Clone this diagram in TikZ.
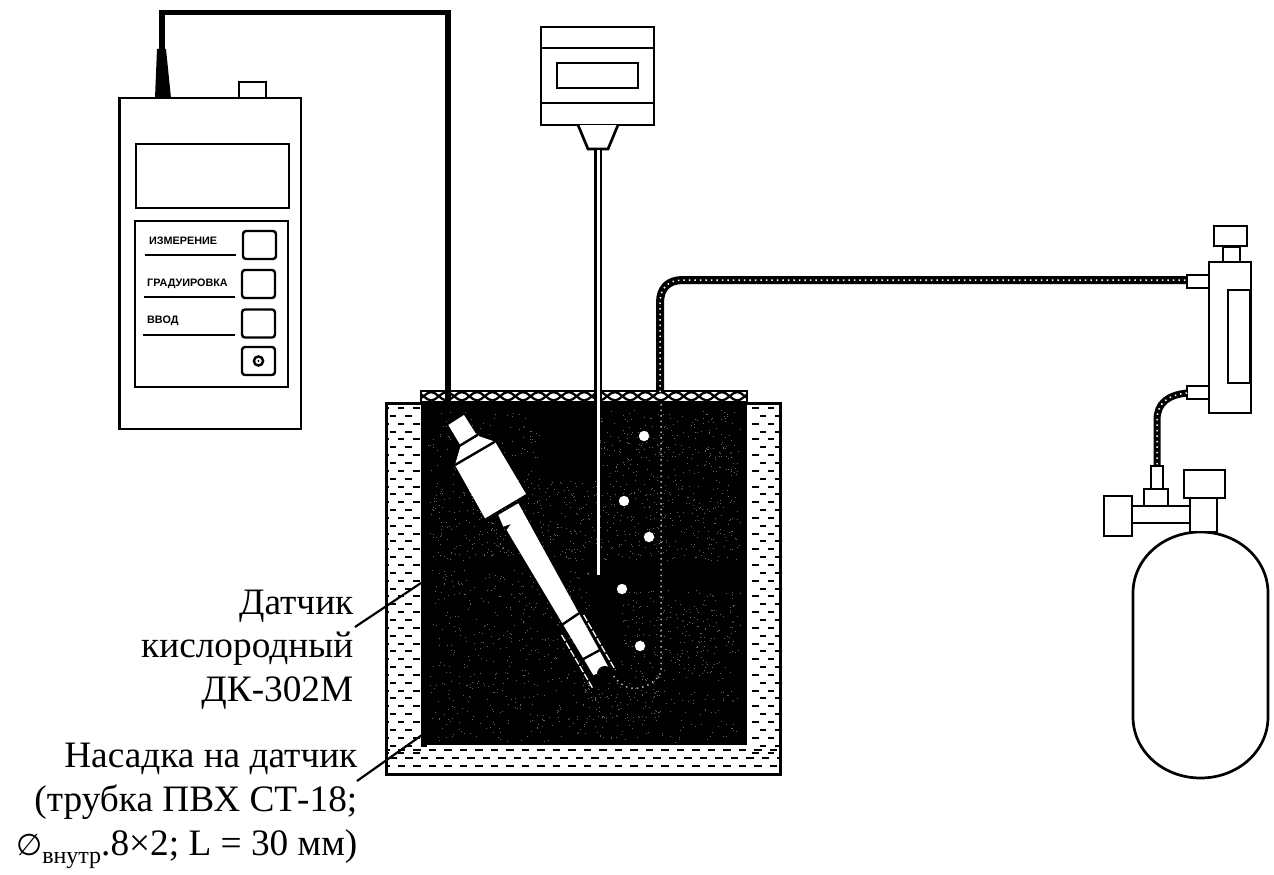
\documentclass[tikz,border=0pt]{standalone}
\usepackage{fontspec}
\setmainfont{Liberation Serif}
\newfontfamily\btnfont{Liberation Sans}[BoldFont={Liberation Sans Bold}]
\usetikzlibrary{calc}
\tikzset{
 ink/.style={draw=black,line width=2.7pt,fill=white,line join=miter},
 thinink/.style={draw=black,line width=2.2pt},
 btn/.style={draw=black,line width=2.4pt,fill=white,rounded corners=3pt},
 btnlabel/.style={font=\btnfont\bfseries\fontsize{10.8}{12}\selectfont,anchor=west,inner sep=0pt},
 rule/.style={draw=black,line width=2.2pt},
 calloutlabel/.style={font=\fontsize{37.3}{43.7}\selectfont,align=right,inner sep=0pt,anchor=north east},
 leader/.style={draw=black,line width=2.2pt},
 ropeouter/.style={draw=black,line width=8pt,line cap=butt},
 ropedots/.style={draw=white,line width=1.5pt,dash pattern=on 1.5pt off 4pt},
 wdash/.style={draw=white,line width=1.3pt,dash pattern=on 7pt off 2pt},
 gas/.style={fill=white,draw=none},
}
\newcommand{\airtube}{(660,392) -- (660,303) .. controls (660,288) and (668,280) .. (683,280) -- (1187,280)}
\newcommand{\feedtube}{(1187,393) .. controls (1168,395) and (1157,403) .. (1157,420) -- (1157,466)}
\begin{document}
\begin{tikzpicture}[x=1pt,y=-1pt]
\useasboundingbox (0,0) rectangle (1274,875);
\fill[white] (0,0) rectangle (1274,875);

% --- bath: water jacket
\draw[ink,line width=3pt] (386,403) rectangle (780,774);
\begin{scope}
\clip (387,404) rectangle (779,773);
\foreach \r in {0,...,44}{
  \pgfmathsetmacro\yy{408+7.85*\r}
  \pgfmathsetmacro\off{mod(\r,2)*7.5}
  \foreach \c in {0,1,2}{
    \fill[black] ({382+\off+15.5*\c},\yy-1) rectangle ++(6.5,2);
    \fill[black] ({752+\off+15.5*(\c-0)},\yy-1) rectangle ++(6.5,2);
  }
}
\foreach \r in {0,1,2}{
  \pgfmathsetmacro\yy{750+8*\r}
  \pgfmathsetmacro\off{mod(\r,2)*7.5}
  \foreach \c in {0,...,25}{
    \fill[black] ({382+\off+15.5*\c},\yy-1) rectangle ++(7.5,2);
  }
}
\end{scope}

% --- liquid
\fill[black] (421,390) rectangle (747,745);
\pgfmathsetseed{4217}
\foreach \xa/\xb/\ya/\yb/\n in {
 428/540/410/480/110, 430/740/480/560/620, 430/590/570/690/340,
 620/740/590/680/260, 430/740/690/742/240, 600/740/410/480/240,
 580/660/680/720/70}{
  \foreach \i in {1,...,\n}{
    \pgfmathsetmacro\px{\xa+rnd*(\xb-\xa)}
    \pgfmathsetmacro\py{\ya+rnd*(\yb-\ya)}
    \fill[black!60] (\px,\py) rectangle ++(1,1);
  }
}

% --- lid
\begin{scope}
\clip (421,392) rectangle (747,402);
\fill[white] (421,392) rectangle (747,401);
\foreach \i in {0,...,21}{
  \pgfmathsetmacro\xs{421+15.3*\i-5}
  \draw[black,line width=2.3pt] (\xs,392) .. controls (\xs+5,392) and (\xs+10,400.5) .. (\xs+15.3,400.5);
  \draw[black,line width=2.3pt] (\xs,400.5) .. controls (\xs+5,400.5) and (\xs+10,392) .. (\xs+15.3,392);
}
\end{scope}
\draw[black,line width=2.8pt] (421,391) -- (747,391);
\fill[black] (421,400.5) rectangle (747,403);
\draw[black,line width=2.4pt] (421,390) -- (421,403) (747,390) -- (747,403);

% --- gas tube continuing inside the liquid
\draw[ropedots,draw=white!70!black] (661,404) -- (661,672) .. controls (656,684) and (640,690) .. (630,688) .. controls (622,686) and (616,680) .. (613,675);
% --- bubbles
\foreach \bx/\by [count=\k] in {644/436,624/501,649/537,622/589,640/646}
  \fill[gas] (\bx,\by) circle (5.2);

% --- oxygen sensor (traced in 3x coordinates of the tank crop)
\begin{scope}[shift={(380,380)},x=0.3333pt,y=-0.3333pt]
  \fill[white] (205,135) -- (252,105) -- (290,165) -- (242,197) -- cycle;
  \fill[white] (242,197) -- (295,168) -- (345,185) -- (225,255) -- cycle;
  \fill[white] (225,255) -- (345,185) -- (438,342) -- (315,415) -- cycle;
  \fill[white] (355,405) -- (415,370) -- (690,870) -- (640,885) -- (380,450) -- (393,432) -- (370,440) -- cycle;
  \fill[black] (675,882) circle (24);
  \draw[black,line width=2.4pt] (238,198) -- (292,165);
  \draw[black,line width=2.4pt] (225,255) -- (345,185);
  \draw[black,line width=2.4pt] (545,735) -- (597,700);
  \draw[black,line width=2.4pt] (605,840) -- (660,810);
  \draw[wdash] (545,765) -- (640,928);
  \draw[wdash] (611,705) -- (706,870);
\end{scope}

% --- meter
\draw[ink] (239,82) rectangle (266,98);
\draw[ink] (119.5,98) rectangle (301,429);
\draw[ink] (136,144) rectangle (289,208);
\draw[ink] (135,221) rectangle (288,387);
\node[btn,minimum width=33pt,minimum height=28pt,inner sep=0pt] (b1) at (259.5,245) {};
\node[btn,minimum width=33pt,minimum height=28pt,inner sep=0pt] (b2) at (258.5,284) {};
\node[btn,minimum width=33pt,minimum height=28pt,inner sep=0pt] (b3) at (258.5,323.5) {};
\node[btn,minimum width=33pt,minimum height=28pt,inner sep=0pt] (b4) at (258.5,361) {};
\draw[black,line width=2.4pt] (b4.center) circle (4.6);
\fill[black] (b4.center) circle (1.2);
\node[btnlabel] (t1) at (149,241) {ИЗМЕРЕНИЕ};
\node[btnlabel] (t2) at (147,284) {ГРАДУИРОВКА};
\node[btnlabel] (t3) at (147,321) {ВВОД};
\draw[rule] (145,255) -- (236,255);
\draw[rule] (144,297) -- (235,297);
\draw[rule] (143,335) -- (235,335);
% plug + cable
\fill[black] (157,49) -- (166,49) -- (171,98) -- (155,98) -- cycle;
\coordinate (plug) at (162,49);
\coordinate (lidin) at (448,392);
\draw[black,line width=5.5pt,line join=miter] (plug) -- (162,12.5) -- (448,12.5) -- (lidin);
\fill[black] (445,390) rectangle (451,404);

% --- thermometer / probe
\draw[ink] (541,27) rectangle (654,125);
\draw[thinink] (541,48) -- (654,48) (541,103) -- (654,103);
\draw[ink] (557,63) rectangle (638,88);
\draw[ink] (578,125) -- (588,149) -- (608,149) -- (618,125);
\fill[black] (594,149) rectangle (602,403);
\fill[white] (596.5,150) rectangle (599.8,575);

% --- air tube and flowmeter
\draw[ropeouter] \airtube;
\draw[ropedots] \airtube;
\draw[ink] (1223,247) rectangle (1240,262);
\draw[ink] (1214,226) rectangle (1247,246);
\draw[ink] (1187,275) rectangle (1209,288);
\draw[ink] (1187,386) rectangle (1209,399);
\draw[ink] (1209,262) rectangle (1251,413);
\draw[ink] (1228,290) rectangle (1250,383);
\draw[ropeouter,line width=7pt] \feedtube;
\draw[ropedots] \feedtube;

% --- cylinder
\draw[ink] (1133,593) .. controls (1133,559) and (1163,532) .. (1200.5,532) .. controls (1238,532) and (1268,559) .. (1268,593) -- (1268,717) .. controls (1268,751) and (1238,778) .. (1200.5,778) .. controls (1163,778) and (1133,751) .. (1133,717) -- cycle;
\draw[ink] (1132,506) rectangle (1190,523);
\draw[ink] (1104,496) rectangle (1132,536);
\draw[ink] (1151,466) rectangle (1163,489);
\draw[ink] (1144,489) rectangle (1168,506);
\draw[ink] (1190,498) rectangle (1217,532);
\draw[ink] (1184,470) rectangle (1225,498);

% --- callouts
\node[calloutlabel] (lbl1) at (353.5,589.5) {Датчик\\кислородный\\ДК-302М};
\node[calloutlabel] (lbl2) at (357.5,743) {Насадка на датчик\\(трубка ПВХ СТ-18;\\{\fontspec{DejaVu Sans}\fontsize{30}{32}\selectfont ∅}\raisebox{-0.22em}{\fontsize{24}{26}\selectfont внутр}.8×2; L = 30 мм)};
\coordinate (tip1) at (421,583);
\coordinate (tip2) at (422,735);
\draw[leader] (355,627) -- (tip1);
\draw[leader] (357,781) -- (tip2);
\end{tikzpicture}
\end{document}
